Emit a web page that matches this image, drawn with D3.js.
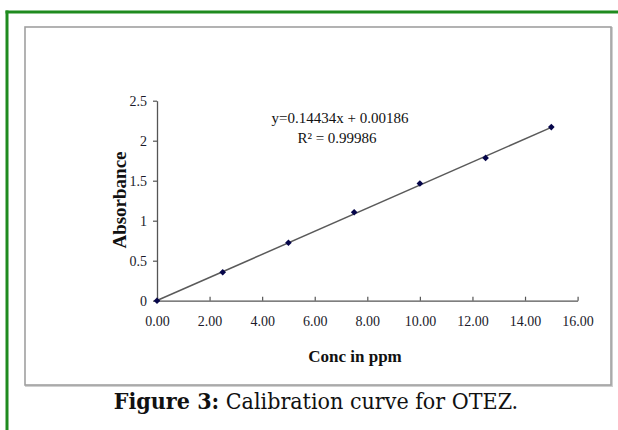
<!DOCTYPE html>
<html><head><meta charset="utf-8">
<script src="https://cdn.jsdelivr.net/npm/d3@7"></script>
<style>html,body{margin:0;padding:0;background:#fff;overflow:hidden}</style>
</head><body>
<script>
const concPpm = [0, 2.5, 5, 7.5, 10, 12.5, 15];
const absorbance = [0, 0.355, 0.725, 1.105, 1.465, 1.785, 2.17];
const xTicks = [0, 2, 4, 6, 8, 10, 12, 14, 16];
const yTicks = [0, 0.5, 1, 1.5, 2, 2.5];
const slope = 0.14434, intercept = 0.00186;

const W = 618, H = 430;
const svg = d3.select("body").append("svg").attr("width", W).attr("height", H);

// green frame
svg.append("line").attr("x1", 5.5).attr("x2", W).attr("y1", 12).attr("y2", 12)
  .attr("stroke", "#1f8b1f").attr("stroke-width", 3);
svg.append("line").attr("x1", 7).attr("x2", 7).attr("y1", 10.5).attr("y2", H)
  .attr("stroke", "#1f8b1f").attr("stroke-width", 3);

// gray chart box with slight shadow
svg.append("rect").attr("x", 26).attr("y", 28).attr("width", 586).attr("height", 358)
  .attr("fill", "none").attr("stroke", "#d0d0d0").attr("stroke-width", 2);
svg.append("rect").attr("x", 25).attr("y", 27).attr("width", 586).attr("height", 358)
  .attr("fill", "#fff").attr("stroke", "#a0a0a0").attr("stroke-width", 1.6);

const x = d3.scaleLinear().domain([0, 16]).range([157, 577.6]);
const y = d3.scaleLinear().domain([0, 2.5]).range([300.7, 100.7]);

const font = "'Liberation Serif', 'Times New Roman', serif";

const xAxis = svg.append("g").attr("transform", `translate(0,${y(0)})`)
  .call(d3.axisBottom(x).tickValues(xTicks).tickFormat(d3.format(".2f")).tickSizeInner(-4).tickSizeOuter(0).tickPadding(15));
xAxis.select(".domain").attr("stroke", "#555").attr("stroke-width", 1.3);
xAxis.selectAll(".tick line").attr("stroke", "#555").attr("stroke-width", 1.2);
xAxis.selectAll("text").attr("font-family", font).attr("font-size", 14).attr("fill", "#1a1a2a");

const yAxis = svg.append("g").attr("transform", `translate(${x(0)},0)`)
  .call(d3.axisLeft(y).tickValues(yTicks).tickFormat(d => String(d)).tickSizeInner(4).tickSizeOuter(0).tickPadding(6));
yAxis.select(".domain").attr("stroke", "#555").attr("stroke-width", 1.3);
yAxis.selectAll(".tick line").attr("stroke", "#555").attr("stroke-width", 1.2);
yAxis.selectAll("text").attr("font-family", font).attr("font-size", 14).attr("fill", "#1a1a2a");

// trendline
svg.append("line")
  .attr("x1", x(0)).attr("y1", y(intercept))
  .attr("x2", x(15)).attr("y2", y(slope * 15 + intercept))
  .attr("stroke", "#5a5a5a").attr("stroke-width", 1.5);

// points (diamonds)
const sq = d3.symbol().type(d3.symbolSquare).size(22);
svg.append("g").selectAll("path").data(concPpm).join("path")
  .attr("d", sq)
  .attr("transform", (d, i) => `translate(${x(d)},${y(absorbance[i])}) rotate(45)`)
  .attr("fill", "#06064a");

// equation
svg.append("text").attr("x", 340).attr("y", 123).attr("text-anchor", "middle")
  .attr("font-family", font).attr("font-size", 15).attr("fill", "#111")
  .text("y=0.14434x + 0.00186");
svg.append("text").attr("x", 337).attr("y", 143).attr("text-anchor", "middle")
  .attr("font-family", font).attr("font-size", 15).attr("fill", "#111")
  .text("R² = 0.99986");

// axis titles
svg.append("text").attr("x", 355).attr("y", 362).attr("text-anchor", "middle")
  .attr("font-family", font).attr("font-size", 17).attr("font-weight", "bold").attr("fill", "#111")
  .text("Conc in ppm");
svg.append("text").attr("transform", "translate(126,200) rotate(-90)").attr("text-anchor", "middle")
  .attr("font-family", font).attr("font-size", 19).attr("font-weight", "bold").attr("fill", "#111")
  .text("Absorbance");

// caption
const cap = svg.append("text").attr("x", 316).attr("y", 409).attr("text-anchor", "middle")
  .attr("font-family", "'DejaVu Serif Condensed', 'DejaVu Serif', serif").attr("font-size", 20).attr("fill", "#111");
cap.append("tspan").attr("font-weight", "bold").text("Figure 3:");
cap.append("tspan").text(" Calibration curve for OTEZ.");
// fit caption width to reference (~416px)
const len = cap.node().getComputedTextLength();
if (len > 0) cap.attr("font-size", Math.min(23, 20 * 416 / len));
</script>
</body></html>
